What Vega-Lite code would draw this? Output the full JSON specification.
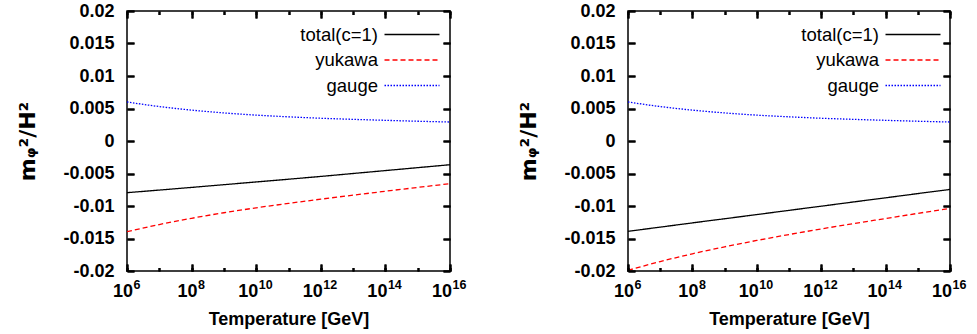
{
  "$schema": "https://vega.github.io/schema/vega-lite/v6.json",
  "padding": {"left": 16, "top": 1, "right": 0, "bottom": 0},
  "background": "white",
  "config": {
    "view": {"stroke": "black", "strokeWidth": 1.5},
    "font": "Liberation Sans",
    "axis": {
      "domain": false,
      "labelFont": "Liberation Sans", "labelFontWeight": "bold", "labelFontSize": 18, "labelColor": "black",
      "titleFont": "Liberation Sans", "titleFontWeight": "bold", "titleFontSize": 18, "titleColor": "black",
      "labelFlush": false, "labelOverlap": false,
      "gridColor": "black", "gridWidth": 2, "gridOpacity": 1
    },
    "legend": {
      "orient": "none", "legendX": 274, "legendY": 12.5, "padding": 0,
      "symbolType": "M-2.75,0H2.75", "symbolSize": 400, "symbolStrokeWidth": 1.3,
      "labelAlign": "right", "labelOffset": -45,
      "labelFont": "Liberation Sans", "labelFontSize": 18.5, "labelFontWeight": "normal", "labelColor": "black",
      "rowPadding": 4.5
    }
  },
  "datasets": {
    "d": [
      {"panel": "left", "series": "total(c=1)", "T": 1e6, "m2": -0.00795},
      {"panel": "left", "series": "total(c=1)", "T": 1e7, "m2": -0.00755},
      {"panel": "left", "series": "total(c=1)", "T": 1e8, "m2": -0.00714},
      {"panel": "left", "series": "total(c=1)", "T": 1e9, "m2": -0.00672},
      {"panel": "left", "series": "total(c=1)", "T": 1e10, "m2": -0.0063},
      {"panel": "left", "series": "total(c=1)", "T": 1e11, "m2": -0.00588},
      {"panel": "left", "series": "total(c=1)", "T": 1e12, "m2": -0.00545},
      {"panel": "left", "series": "total(c=1)", "T": 1e13, "m2": -0.005},
      {"panel": "left", "series": "total(c=1)", "T": 1e14, "m2": -0.00455},
      {"panel": "left", "series": "total(c=1)", "T": 1e15, "m2": -0.0041},
      {"panel": "left", "series": "total(c=1)", "T": 1e16, "m2": -0.00365},
      {"panel": "left", "series": "yukawa", "T": 1e6, "m2": -0.01395},
      {"panel": "left", "series": "yukawa", "T": 1e7, "m2": -0.01285},
      {"panel": "left", "series": "yukawa", "T": 1e8, "m2": -0.01189},
      {"panel": "left", "series": "yukawa", "T": 1e9, "m2": -0.01104},
      {"panel": "left", "series": "yukawa", "T": 1e10, "m2": -0.01028},
      {"panel": "left", "series": "yukawa", "T": 1e11, "m2": -0.0096},
      {"panel": "left", "series": "yukawa", "T": 1e12, "m2": -0.00895},
      {"panel": "left", "series": "yukawa", "T": 1e13, "m2": -0.00833},
      {"panel": "left", "series": "yukawa", "T": 1e14, "m2": -0.00773},
      {"panel": "left", "series": "yukawa", "T": 1e15, "m2": -0.00714},
      {"panel": "left", "series": "yukawa", "T": 1e16, "m2": -0.00657},
      {"panel": "left", "series": "gauge", "T": 1e6, "m2": 0.006},
      {"panel": "left", "series": "gauge", "T": 1e7, "m2": 0.0053},
      {"panel": "left", "series": "gauge", "T": 1e8, "m2": 0.00475},
      {"panel": "left", "series": "gauge", "T": 1e9, "m2": 0.00432},
      {"panel": "left", "series": "gauge", "T": 1e10, "m2": 0.00398},
      {"panel": "left", "series": "gauge", "T": 1e11, "m2": 0.00372},
      {"panel": "left", "series": "gauge", "T": 1e12, "m2": 0.0035},
      {"panel": "left", "series": "gauge", "T": 1e13, "m2": 0.00333},
      {"panel": "left", "series": "gauge", "T": 1e14, "m2": 0.00318},
      {"panel": "left", "series": "gauge", "T": 1e15, "m2": 0.00304},
      {"panel": "left", "series": "gauge", "T": 1e16, "m2": 0.00292},
      {"panel": "right", "series": "total(c=1)", "T": 1e6, "m2": -0.0139},
      {"panel": "right", "series": "total(c=1)", "T": 1e7, "m2": -0.01325},
      {"panel": "right", "series": "total(c=1)", "T": 1e8, "m2": -0.0126},
      {"panel": "right", "series": "total(c=1)", "T": 1e9, "m2": -0.01196},
      {"panel": "right", "series": "total(c=1)", "T": 1e10, "m2": -0.01132},
      {"panel": "right", "series": "total(c=1)", "T": 1e11, "m2": -0.01067},
      {"panel": "right", "series": "total(c=1)", "T": 1e12, "m2": -0.01003},
      {"panel": "right", "series": "total(c=1)", "T": 1e13, "m2": -0.00938},
      {"panel": "right", "series": "total(c=1)", "T": 1e14, "m2": -0.00874},
      {"panel": "right", "series": "total(c=1)", "T": 1e15, "m2": -0.00809},
      {"panel": "right", "series": "total(c=1)", "T": 1e16, "m2": -0.00745},
      {"panel": "right", "series": "yukawa", "T": 1e6, "m2": -0.0199},
      {"panel": "right", "series": "yukawa", "T": 1e7, "m2": -0.01855},
      {"panel": "right", "series": "yukawa", "T": 1e8, "m2": -0.01735},
      {"panel": "right", "series": "yukawa", "T": 1e9, "m2": -0.01628},
      {"panel": "right", "series": "yukawa", "T": 1e10, "m2": -0.0153},
      {"panel": "right", "series": "yukawa", "T": 1e11, "m2": -0.01439},
      {"panel": "right", "series": "yukawa", "T": 1e12, "m2": -0.01353},
      {"panel": "right", "series": "yukawa", "T": 1e13, "m2": -0.01271},
      {"panel": "right", "series": "yukawa", "T": 1e14, "m2": -0.01192},
      {"panel": "right", "series": "yukawa", "T": 1e15, "m2": -0.01113},
      {"panel": "right", "series": "yukawa", "T": 1e16, "m2": -0.01037},
      {"panel": "right", "series": "gauge", "T": 1e6, "m2": 0.006},
      {"panel": "right", "series": "gauge", "T": 1e7, "m2": 0.0053},
      {"panel": "right", "series": "gauge", "T": 1e8, "m2": 0.00475},
      {"panel": "right", "series": "gauge", "T": 1e9, "m2": 0.00432},
      {"panel": "right", "series": "gauge", "T": 1e10, "m2": 0.00398},
      {"panel": "right", "series": "gauge", "T": 1e11, "m2": 0.00372},
      {"panel": "right", "series": "gauge", "T": 1e12, "m2": 0.0035},
      {"panel": "right", "series": "gauge", "T": 1e13, "m2": 0.00333},
      {"panel": "right", "series": "gauge", "T": 1e14, "m2": 0.00318},
      {"panel": "right", "series": "gauge", "T": 1e15, "m2": 0.00304},
      {"panel": "right", "series": "gauge", "T": 1e16, "m2": 0.00292}
    ]
  },
  "spacing": 178,
  "bounds": "flush",
  "resolve": {"scale": {"color": "independent", "strokeDash": "independent"}},
  "hconcat": [
    {
      "width": 323, "height": 260,
      "data": {"name": "d"},
      "transform": [{"filter": "datum.panel == 'left'"}],
      "resolve": {"axis": {"x": "independent", "y": "independent"}},
      "encoding": {
        "color": {"field": "series", "type": "nominal", "scale": {"domain": ["total(c=1)", "yukawa", "gauge"], "range": ["#000000", "#ff0000", "#0000ff"]}, "legend": {"title": null, "labelFontSize": 18.5}},
        "strokeDash": {"field": "series", "type": "nominal", "scale": {"domain": ["total(c=1)", "yukawa", "gauge"], "range": [[1, 0], [5, 3], [1.5, 1.5]]}, "legend": {"title": null, "labelFontSize": 18.5}}
      },
      "layer": [
        {
          "transform": [{"filter": "datum.series == 'total(c=1)'"}],
          "mark": {"type": "line", "strokeWidth": 1.3, "interpolate": "monotone", "clip": true},
          "encoding": {
            "x": {"field": "T", "type": "quantitative", "scale": {"type": "log", "domain": [1e6, 1e16], "nice": false},
              "axis": {"orient": "bottom", "title": "Temperature [GeV]", "zindex": 1, "tickSize": -7, "tickColor": "black", "tickWidth": 2, "tickOpacity": 1,
                "grid": true, "gridDash": [7, 246, 7, 0],
                "values": [1e6, 1e8, 1e10, 1e12, 1e14, 1e16],
                "labelPadding": 18, "titlePadding": 10, "labelAlign": "right",
                "labelOffset": {"condition": {"test": "datum.value < 1e9", "value": 5.5}, "value": 1.5},
                "labelExpr": "'10'"}},
            "y": {"field": "m2", "type": "quantitative", "scale": {"domain": [-0.02, 0.02], "nice": false, "zero": false},
              "axis": {"orient": "left", "title": "mᵩ²/H²", "titleFont": "DejaVu Sans", "titleFontSize": 22, "zindex": 1, "tickSize": -7, "tickColor": "black", "tickWidth": 2, "tickOpacity": 1,
                "grid": true, "gridDash": [7, 309, 7, 0],
                "values": [-0.02, -0.015, -0.01, -0.005, 0, 0.005, 0.01, 0.015, 0.02],
                "labelPadding": 20, "titlePadding": 23,
                "labelExpr": "replace(format(datum.value, '~g'), '−', '-')"}}
          }
        },
        {
          "transform": [{"filter": "datum.series == 'yukawa'"}],
          "mark": {"type": "line", "strokeWidth": 1.3, "interpolate": "monotone", "clip": true},
          "encoding": {
            "x": {"field": "T", "type": "quantitative",
              "axis": {"orient": "bottom", "title": null, "zindex": 1, "tickSize": -3.5, "tickColor": "black", "tickWidth": 2, "tickOpacity": 1,
                "grid": true, "gridDash": [3.5, 253, 3.5, 0],
                "values": [1e6, 1e7, 1e8, 1e9, 1e10, 1e11, 1e12, 1e13, 1e14, 1e15, 1e16],
                "labelFontSize": 12.5, "labelPadding": 10.5, "labelAlign": "left",
                "labelOffset": {"condition": {"test": "datum.value < 1e9", "value": 6}, "value": 2},
                "labelExpr": "round(log(datum.value)/LN10) % 2 == 0 ? format(round(log(datum.value)/LN10), 'd') : ''"}},
            "y": {"field": "m2", "type": "quantitative",
              "axis": {"orient": "right", "title": null, "labels": false, "zindex": 1, "tickSize": -7, "tickColor": "black", "tickWidth": 2, "tickOpacity": 1,
                "grid": false,
                "values": [-0.02, -0.015, -0.01, -0.005, 0, 0.005, 0.01, 0.015, 0.02]}}
          }
        },
        {
          "transform": [{"filter": "datum.series == 'gauge' && datum.T <= 1e11"}],
          "mark": {"type": "line", "strokeWidth": 1.3, "interpolate": "monotone", "clip": true},
          "encoding": {
            "x": {"field": "T", "type": "quantitative",
              "axis": {"orient": "top", "title": null, "labels": false, "zindex": 1, "tickSize": -7, "tickColor": "black", "tickWidth": 2, "tickOpacity": 1,
                "grid": false,
                "values": [1e6, 1e8, 1e10, 1e12, 1e14, 1e16]}},
            "y": {"field": "m2", "type": "quantitative", "axis": null}
          }
        },
        {
          "transform": [{"filter": "datum.series == 'gauge' && datum.T >= 1e11"}],
          "mark": {"type": "line", "strokeWidth": 1.3, "interpolate": "monotone", "clip": true},
          "encoding": {
            "x": {"field": "T", "type": "quantitative",
              "axis": {"orient": "top", "title": null, "labels": false, "zindex": 1, "tickSize": -3.5, "tickColor": "black", "tickWidth": 2, "tickOpacity": 1,
                "grid": false,
                "values": [1e7, 1e9, 1e11, 1e13, 1e15]}},
            "y": {"field": "m2", "type": "quantitative", "axis": null}
          }
        }
      ]
    },
    {
      "width": 322, "height": 260,
      "data": {"name": "d"},
      "transform": [{"filter": "datum.panel == 'right'"}],
      "resolve": {"axis": {"x": "independent", "y": "independent"}},
      "encoding": {
        "color": {"field": "series", "type": "nominal", "scale": {"domain": ["total(c=1)", "yukawa", "gauge"], "range": ["#000000", "#ff0000", "#0000ff"]}, "legend": {"title": null, "labelFontSize": 18.5}},
        "strokeDash": {"field": "series", "type": "nominal", "scale": {"domain": ["total(c=1)", "yukawa", "gauge"], "range": [[1, 0], [5, 3], [1.5, 1.5]]}, "legend": {"title": null, "labelFontSize": 18.5}}
      },
      "layer": [
        {
          "transform": [{"filter": "datum.series == 'total(c=1)'"}],
          "mark": {"type": "line", "strokeWidth": 1.3, "interpolate": "monotone", "clip": true},
          "encoding": {
            "x": {"field": "T", "type": "quantitative", "scale": {"type": "log", "domain": [1e6, 1e16], "nice": false},
              "axis": {"orient": "bottom", "title": "Temperature [GeV]", "zindex": 1, "tickSize": -7, "tickColor": "black", "tickWidth": 2, "tickOpacity": 1,
                "grid": true, "gridDash": [7, 246, 7, 0],
                "values": [1e6, 1e8, 1e10, 1e12, 1e14, 1e16],
                "labelPadding": 18, "titlePadding": 10, "labelAlign": "right",
                "labelOffset": {"condition": {"test": "datum.value < 1e9", "value": 5.5}, "value": 1.5},
                "labelExpr": "'10'"}},
            "y": {"field": "m2", "type": "quantitative", "scale": {"domain": [-0.02, 0.02], "nice": false, "zero": false},
              "axis": {"orient": "left", "title": "mᵩ²/H²", "titleFont": "DejaVu Sans", "titleFontSize": 22, "zindex": 1, "tickSize": -7, "tickColor": "black", "tickWidth": 2, "tickOpacity": 1,
                "grid": true, "gridDash": [7, 308, 7, 0],
                "values": [-0.02, -0.015, -0.01, -0.005, 0, 0.005, 0.01, 0.015, 0.02],
                "labelPadding": 20, "titlePadding": 23,
                "labelExpr": "replace(format(datum.value, '~g'), '−', '-')"}}
          }
        },
        {
          "transform": [{"filter": "datum.series == 'yukawa'"}],
          "mark": {"type": "line", "strokeWidth": 1.3, "interpolate": "monotone", "clip": true},
          "encoding": {
            "x": {"field": "T", "type": "quantitative",
              "axis": {"orient": "bottom", "title": null, "zindex": 1, "tickSize": -3.5, "tickColor": "black", "tickWidth": 2, "tickOpacity": 1,
                "grid": true, "gridDash": [3.5, 253, 3.5, 0],
                "values": [1e6, 1e7, 1e8, 1e9, 1e10, 1e11, 1e12, 1e13, 1e14, 1e15, 1e16],
                "labelFontSize": 12.5, "labelPadding": 10.5, "labelAlign": "left",
                "labelOffset": {"condition": {"test": "datum.value < 1e9", "value": 6}, "value": 2},
                "labelExpr": "round(log(datum.value)/LN10) % 2 == 0 ? format(round(log(datum.value)/LN10), 'd') : ''"}},
            "y": {"field": "m2", "type": "quantitative",
              "axis": {"orient": "right", "title": null, "labels": false, "zindex": 1, "tickSize": -7, "tickColor": "black", "tickWidth": 2, "tickOpacity": 1,
                "grid": false,
                "values": [-0.02, -0.015, -0.01, -0.005, 0, 0.005, 0.01, 0.015, 0.02]}}
          }
        },
        {
          "transform": [{"filter": "datum.series == 'gauge' && datum.T <= 1e11"}],
          "mark": {"type": "line", "strokeWidth": 1.3, "interpolate": "monotone", "clip": true},
          "encoding": {
            "x": {"field": "T", "type": "quantitative",
              "axis": {"orient": "top", "title": null, "labels": false, "zindex": 1, "tickSize": -7, "tickColor": "black", "tickWidth": 2, "tickOpacity": 1,
                "grid": false,
                "values": [1e6, 1e8, 1e10, 1e12, 1e14, 1e16]}},
            "y": {"field": "m2", "type": "quantitative", "axis": null}
          }
        },
        {
          "transform": [{"filter": "datum.series == 'gauge' && datum.T >= 1e11"}],
          "mark": {"type": "line", "strokeWidth": 1.3, "interpolate": "monotone", "clip": true},
          "encoding": {
            "x": {"field": "T", "type": "quantitative",
              "axis": {"orient": "top", "title": null, "labels": false, "zindex": 1, "tickSize": -3.5, "tickColor": "black", "tickWidth": 2, "tickOpacity": 1,
                "grid": false,
                "values": [1e7, 1e9, 1e11, 1e13, 1e15]}},
            "y": {"field": "m2", "type": "quantitative", "axis": null}
          }
        }
      ]
    }
  ]
}
